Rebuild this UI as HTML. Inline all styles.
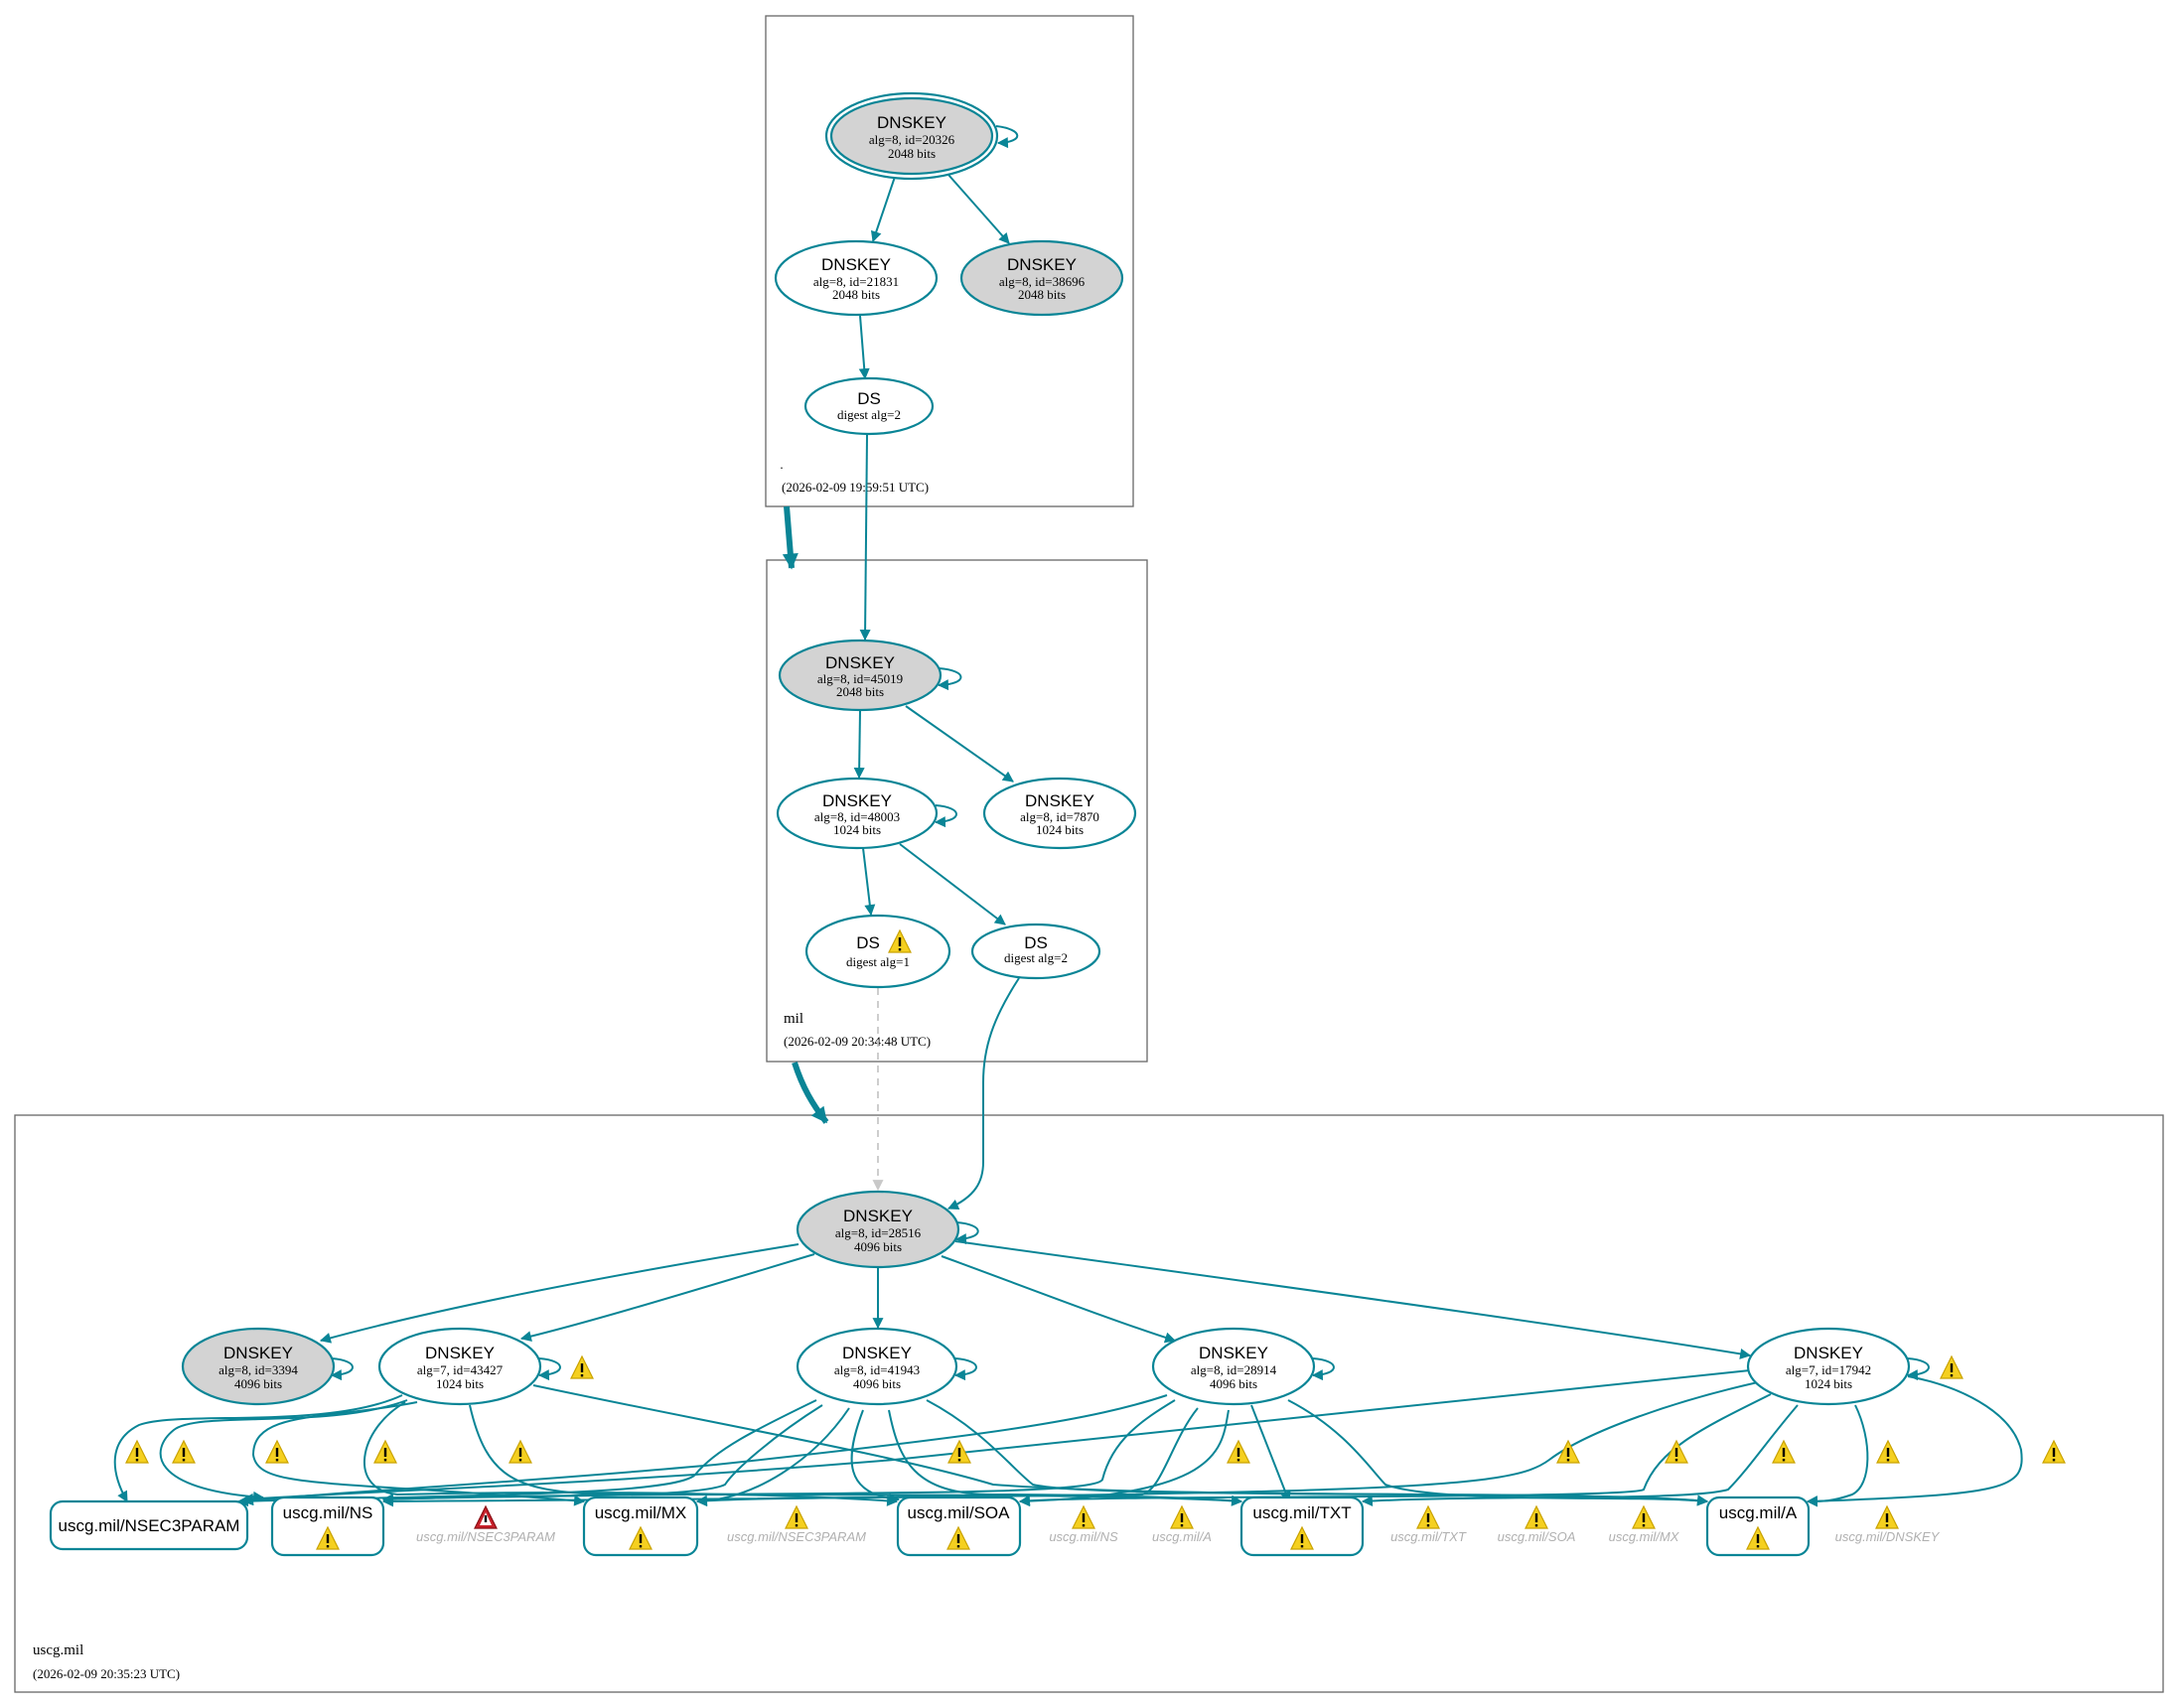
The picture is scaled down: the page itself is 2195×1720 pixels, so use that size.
<!DOCTYPE html>
<html><head><meta charset="utf-8"><style>
html,body{margin:0;padding:0;background:#fff;}
svg{display:block;}
.s{font-family:"Liberation Sans",sans-serif;font-size:17px;fill:#000;text-anchor:middle;}
.r{font-family:"Liberation Serif",serif;font-size:13px;fill:#000;text-anchor:middle;}
.g{font-family:"Liberation Sans",sans-serif;font-size:13px;fill:#b0b0b0;font-style:italic;text-anchor:middle;}
.e{fill:none;stroke:#0a8596;stroke-width:2;}
.n{stroke:#0a8596;stroke-width:2.2;}
.cl{fill:none;stroke:#666;stroke-width:1.3;}
</style></head><body>
<svg width="2195" height="1720" viewBox="0 0 2195 1720" xmlns="http://www.w3.org/2000/svg">
<defs>
<marker id="a" viewBox="0 0 10 10" refX="9" refY="5" markerWidth="15" markerHeight="11" orient="auto" markerUnits="userSpaceOnUse"><path d="M0,0 L10,5 L0,10 z" fill="#0a8596"/></marker>
<marker id="A" viewBox="0 0 10 10" refX="9" refY="5" markerWidth="18" markerHeight="16" orient="auto" markerUnits="userSpaceOnUse"><path d="M0,0 L10,5 L0,10 z" fill="#0a8596"/></marker>
<marker id="ag" viewBox="0 0 10 10" refX="9" refY="5" markerWidth="13" markerHeight="11" orient="auto" markerUnits="userSpaceOnUse"><path d="M0,0 L10,5 L0,10 z" fill="#c8c8c8"/></marker>
<g id="w"><path d="M0,-13 L11,9 L-11,9 Z" fill="#f5d020" stroke="#c9a200" stroke-width="1.2"/><rect x="-1.2" y="-6" width="2.4" height="9" fill="#000"/><rect x="-1.2" y="5" width="2.4" height="2.4" fill="#000"/></g>
<g id="wr"><path d="M0,-13 L11,9 L-11,9 Z" fill="#c8202a" stroke="#8a0f15" stroke-width="1.2"/><path d="M0,-7 L6,6 L-6,6 Z" fill="#fff"/><rect x="-1.2" y="-4" width="2.4" height="7" fill="#000"/></g>
</defs>

<rect class="cl" x="771" y="16" width="370" height="494"/>
<rect class="cl" x="772" y="564" width="383" height="505"/>
<rect class="cl" x="15" y="1123" width="2163" height="581"/>

<text x="787" y="472" class="r">.</text>
<text x="787" y="495" class="r" style="text-anchor:start">(2026-02-09 19:59:51 UTC)</text>
<text x="789" y="1030" class="r" style="text-anchor:start;font-size:15px">mil</text>
<text x="789" y="1053" class="r" style="text-anchor:start">(2026-02-09 20:34:48 UTC)</text>
<text x="33" y="1666" class="r" style="text-anchor:start;font-size:15px">uscg.mil</text>
<text x="33" y="1690" class="r" style="text-anchor:start">(2026-02-09 20:35:23 UTC)</text>

<path d="M792,510 L797,572" fill="none" stroke="#0a8596" stroke-width="6" marker-end="url(#A)"/>
<path d="M800,1070 C808,1095 818,1112 832,1130" fill="none" stroke="#0a8596" stroke-width="6" marker-end="url(#A)"/>

<path class="e" d="M901,178 L879,243" marker-end="url(#a)"/>
<path class="e" d="M955,176 L1016,245" marker-end="url(#a)"/>
<path class="e" d="M866,318 L871,381" marker-end="url(#a)"/>
<path class="e" d="M873,438 L871,644" marker-end="url(#a)"/>
<path class="e" d="M1003,127 C1030,130 1032,143 1005,144" marker-end="url(#a)"/>

<path class="e" d="M866,715 L865,783" marker-end="url(#a)"/>
<path class="e" d="M912,711 L1020,787" marker-end="url(#a)"/>
<path class="e" d="M869,854 L877,921" marker-end="url(#a)"/>
<path class="e" d="M906,850 L1012,931" marker-end="url(#a)"/>
<path class="e" d="M945,673 C975,675 975,689 945,690" marker-end="url(#a)"/>
<path class="e" d="M942,811 C970,813 970,827 942,828" marker-end="url(#a)"/>
<path class="e" d="M1026,985 C1000,1025 990,1055 990,1090 L990,1170 C990,1190 982,1205 955,1217" marker-end="url(#a)"/>
<path d="M884,995 L884,1198" fill="none" stroke="#c8c8c8" stroke-width="1.8" stroke-dasharray="7,6" marker-end="url(#ag)"/>

<path class="e" d="M804,1253 C620,1283 450,1315 323,1350" marker-end="url(#a)"/>
<path class="e" d="M820,1263 C720,1293 600,1330 525,1348" marker-end="url(#a)"/>
<path class="e" d="M884,1276 L884,1337" marker-end="url(#a)"/>
<path class="e" d="M948,1265 C1030,1295 1120,1330 1183,1350" marker-end="url(#a)"/>
<path class="e" d="M962,1250 C1250,1290 1550,1330 1762,1365" marker-end="url(#a)"/>
<path class="e" d="M963,1231 C992,1233 992,1247 963,1248" marker-end="url(#a)"/>
<path class="e" d="M334,1368 C362,1370 362,1384 334,1385" marker-end="url(#a)"/>
<path class="e" d="M543,1368 C571,1370 571,1384 543,1385" marker-end="url(#a)"/>
<path class="e" d="M962,1368 C990,1370 990,1384 962,1385" marker-end="url(#a)"/>
<path class="e" d="M1322,1368 C1350,1370 1350,1384 1322,1385" marker-end="url(#a)"/>
<path class="e" d="M1921,1368 C1949,1370 1949,1384 1921,1385" marker-end="url(#a)"/>

<g class="e">
<path d="M405,1405 C330,1440 180,1420 140,1435 C110,1450 110,1480 128,1512" marker-end="url(#a)"/>
<path d="M410,1410 C330,1440 200,1420 175,1440 C150,1460 150,1500 265,1508" marker-end="url(#a)"/>
<path d="M420,1412 C330,1430 255,1420 255,1465 C260,1500 330,1490 588,1512" marker-end="url(#a)"/>
<path d="M408,1412 C360,1440 350,1500 400,1505 C600,1500 800,1505 903,1512" marker-end="url(#a)"/>
<path d="M473,1415 C490,1490 520,1500 600,1505 C900,1505 1150,1505 1250,1512" marker-end="url(#a)"/>
<path d="M537,1395 C700,1430 900,1465 1000,1495 C1200,1510 1600,1500 1719,1512" marker-end="url(#a)"/>

<path d="M822,1410 C760,1440 720,1460 700,1485 C680,1505 500,1505 240,1512" marker-end="url(#a)"/>
<path d="M828,1415 C780,1445 740,1480 730,1495 C700,1510 500,1505 386,1510" marker-end="url(#a)"/>
<path d="M855,1418 C820,1470 760,1510 702,1512" marker-end="url(#a)"/>
<path d="M869,1420 C850,1470 850,1505 905,1510" marker-end="url(#a)"/>
<path d="M895,1420 C905,1470 920,1505 1000,1505 C1100,1505 1200,1508 1250,1512" marker-end="url(#a)"/>
<path d="M933,1410 C990,1440 1020,1480 1040,1495 C1100,1510 1600,1500 1719,1512" marker-end="url(#a)"/>

<path d="M1175,1405 C1100,1430 1000,1445 720,1475 C500,1495 300,1505 245,1512" marker-end="url(#a)"/>
<path d="M1183,1410 C1150,1430 1120,1450 1110,1490 C1100,1510 700,1500 386,1510" marker-end="url(#a)"/>
<path d="M1206,1418 C1180,1450 1170,1500 1150,1505 C900,1508 750,1508 702,1512" marker-end="url(#a)"/>
<path d="M1237,1420 C1230,1460 1230,1505 1027,1512" marker-end="url(#a)"/>
<path d="M1260,1415 L1298,1512" marker-end="url(#a)"/>
<path d="M1297,1410 C1355,1440 1380,1480 1395,1495 C1450,1515 1650,1505 1719,1512" marker-end="url(#a)"/>

<path d="M1762,1380 C1500,1410 1200,1440 900,1470 C600,1495 400,1500 245,1510" marker-end="url(#a)"/>
<path d="M1770,1392 C1690,1410 1600,1440 1560,1470 C1520,1500 1420,1505 386,1512" marker-end="url(#a)"/>
<path d="M1783,1404 C1710,1440 1670,1460 1655,1500 C1640,1510 1100,1505 1027,1512" marker-end="url(#a)"/>
<path d="M1810,1415 C1780,1450 1760,1480 1740,1500 C1700,1512 1500,1505 1372,1512" marker-end="url(#a)"/>
<path d="M1868,1415 C1885,1450 1885,1495 1865,1505 C1845,1512 1835,1512 1820,1512" marker-end="url(#a)"/>
<path d="M1921,1386 C1970,1395 2025,1420 2035,1460 C2040,1500 2020,1505 1820,1512" marker-end="url(#a)"/>
</g>

<ellipse class="n" cx="918" cy="137" rx="86" ry="43" fill="#fff"/>
<ellipse class="n" cx="918" cy="137" rx="81" ry="38" fill="#d3d3d3"/>
<text x="918" y="129" class="s">DNSKEY</text><text x="918" y="145" class="r">alg=8, id=20326</text><text x="918" y="159" class="r">2048 bits</text>
<ellipse class="n" cx="862" cy="280" rx="81" ry="37" fill="#fff"/>
<text x="862" y="272" class="s">DNSKEY</text><text x="862" y="288" class="r">alg=8, id=21831</text><text x="862" y="301" class="r">2048 bits</text>
<ellipse class="n" cx="1049" cy="280" rx="81" ry="37" fill="#d3d3d3"/>
<text x="1049" y="272" class="s">DNSKEY</text><text x="1049" y="288" class="r">alg=8, id=38696</text><text x="1049" y="301" class="r">2048 bits</text>
<ellipse class="n" cx="875" cy="409" rx="64" ry="28" fill="#fff"/>
<text x="875" y="407" class="s">DS</text><text x="875" y="422" class="r">digest alg=2</text>

<ellipse class="n" cx="866" cy="680" rx="81" ry="35" fill="#d3d3d3"/>
<text x="866" y="673" class="s">DNSKEY</text><text x="866" y="688" class="r">alg=8, id=45019</text><text x="866" y="701" class="r">2048 bits</text>
<ellipse class="n" cx="863" cy="819" rx="80" ry="35" fill="#fff"/>
<text x="863" y="812" class="s">DNSKEY</text><text x="863" y="827" class="r">alg=8, id=48003</text><text x="863" y="840" class="r">1024 bits</text>
<ellipse class="n" cx="1067" cy="819" rx="76" ry="35" fill="#fff"/>
<text x="1067" y="812" class="s">DNSKEY</text><text x="1067" y="827" class="r">alg=8, id=7870</text><text x="1067" y="840" class="r">1024 bits</text>
<ellipse class="n" cx="884" cy="958" rx="72" ry="36" fill="#fff"/>
<text x="874" y="955" class="s">DS</text><use href="#w" x="906" y="950"/><text x="884" y="973" class="r">digest alg=1</text>
<ellipse class="n" cx="1043" cy="958" rx="64" ry="27" fill="#fff"/>
<text x="1043" y="955" class="s">DS</text><text x="1043" y="969" class="r">digest alg=2</text>

<ellipse class="n" cx="884" cy="1238" rx="81" ry="38" fill="#d3d3d3"/>
<text x="884" y="1230" class="s">DNSKEY</text><text x="884" y="1246" class="r">alg=8, id=28516</text><text x="884" y="1260" class="r">4096 bits</text>
<ellipse class="n" cx="260" cy="1376" rx="76" ry="38" fill="#d3d3d3"/>
<text x="260" y="1368" class="s">DNSKEY</text><text x="260" y="1384" class="r">alg=8, id=3394</text><text x="260" y="1398" class="r">4096 bits</text>
<ellipse class="n" cx="463" cy="1376" rx="81" ry="38" fill="#fff"/>
<text x="463" y="1368" class="s">DNSKEY</text><text x="463" y="1384" class="r">alg=7, id=43427</text><text x="463" y="1398" class="r">1024 bits</text>
<ellipse class="n" cx="883" cy="1376" rx="80" ry="38" fill="#fff"/>
<text x="883" y="1368" class="s">DNSKEY</text><text x="883" y="1384" class="r">alg=8, id=41943</text><text x="883" y="1398" class="r">4096 bits</text>
<ellipse class="n" cx="1242" cy="1376" rx="81" ry="38" fill="#fff"/>
<text x="1242" y="1368" class="s">DNSKEY</text><text x="1242" y="1384" class="r">alg=8, id=28914</text><text x="1242" y="1398" class="r">4096 bits</text>
<ellipse class="n" cx="1841" cy="1376" rx="81" ry="38" fill="#fff"/>
<text x="1841" y="1368" class="s">DNSKEY</text><text x="1841" y="1384" class="r">alg=7, id=17942</text><text x="1841" y="1398" class="r">1024 bits</text>
<use href="#w" x="586" y="1379"/><use href="#w" x="1965" y="1379"/>

<rect class="n" x="51" y="1512" width="198" height="48" rx="12" fill="#fff"/>
<text x="150" y="1542" class="s">uscg.mil/NSEC3PARAM</text>
<rect class="n" x="274" y="1508" width="112" height="58" rx="12" fill="#fff"/>
<text x="330" y="1529" class="s">uscg.mil/NS</text><use href="#w" x="330" y="1551"/>
<rect class="n" x="588" y="1508" width="114" height="58" rx="12" fill="#fff"/>
<text x="645" y="1529" class="s">uscg.mil/MX</text><use href="#w" x="645" y="1551"/>
<rect class="n" x="904" y="1508" width="123" height="58" rx="12" fill="#fff"/>
<text x="965" y="1529" class="s">uscg.mil/SOA</text><use href="#w" x="965" y="1551"/>
<rect class="n" x="1250" y="1508" width="122" height="58" rx="12" fill="#fff"/>
<text x="1311" y="1529" class="s">uscg.mil/TXT</text><use href="#w" x="1311" y="1551"/>
<rect class="n" x="1719" y="1508" width="102" height="58" rx="12" fill="#fff"/>
<text x="1770" y="1529" class="s">uscg.mil/A</text><use href="#w" x="1770" y="1551"/>

<use href="#wr" x="489" y="1530"/><text x="489" y="1552" class="g">uscg.mil/NSEC3PARAM</text>
<use href="#w" x="802" y="1530"/><text x="802" y="1552" class="g">uscg.mil/NSEC3PARAM</text>
<use href="#w" x="1091" y="1530"/><text x="1091" y="1552" class="g">uscg.mil/NS</text>
<use href="#w" x="1190" y="1530"/><text x="1190" y="1552" class="g">uscg.mil/A</text>
<use href="#w" x="1438" y="1530"/><text x="1438" y="1552" class="g">uscg.mil/TXT</text>
<use href="#w" x="1547" y="1530"/><text x="1547" y="1552" class="g">uscg.mil/SOA</text>
<use href="#w" x="1655" y="1530"/><text x="1655" y="1552" class="g">uscg.mil/MX</text>
<use href="#w" x="1900" y="1530"/><text x="1900" y="1552" class="g">uscg.mil/DNSKEY</text>

<use href="#w" x="138" y="1464"/><use href="#w" x="185" y="1464"/><use href="#w" x="279" y="1464"/>
<use href="#w" x="388" y="1464"/><use href="#w" x="524" y="1464"/><use href="#w" x="966" y="1464"/>
<use href="#w" x="1247" y="1464"/><use href="#w" x="1579" y="1464"/><use href="#w" x="1688" y="1464"/>
<use href="#w" x="1796" y="1464"/><use href="#w" x="1901" y="1464"/><use href="#w" x="2068" y="1464"/>
</svg>
</body></html>
